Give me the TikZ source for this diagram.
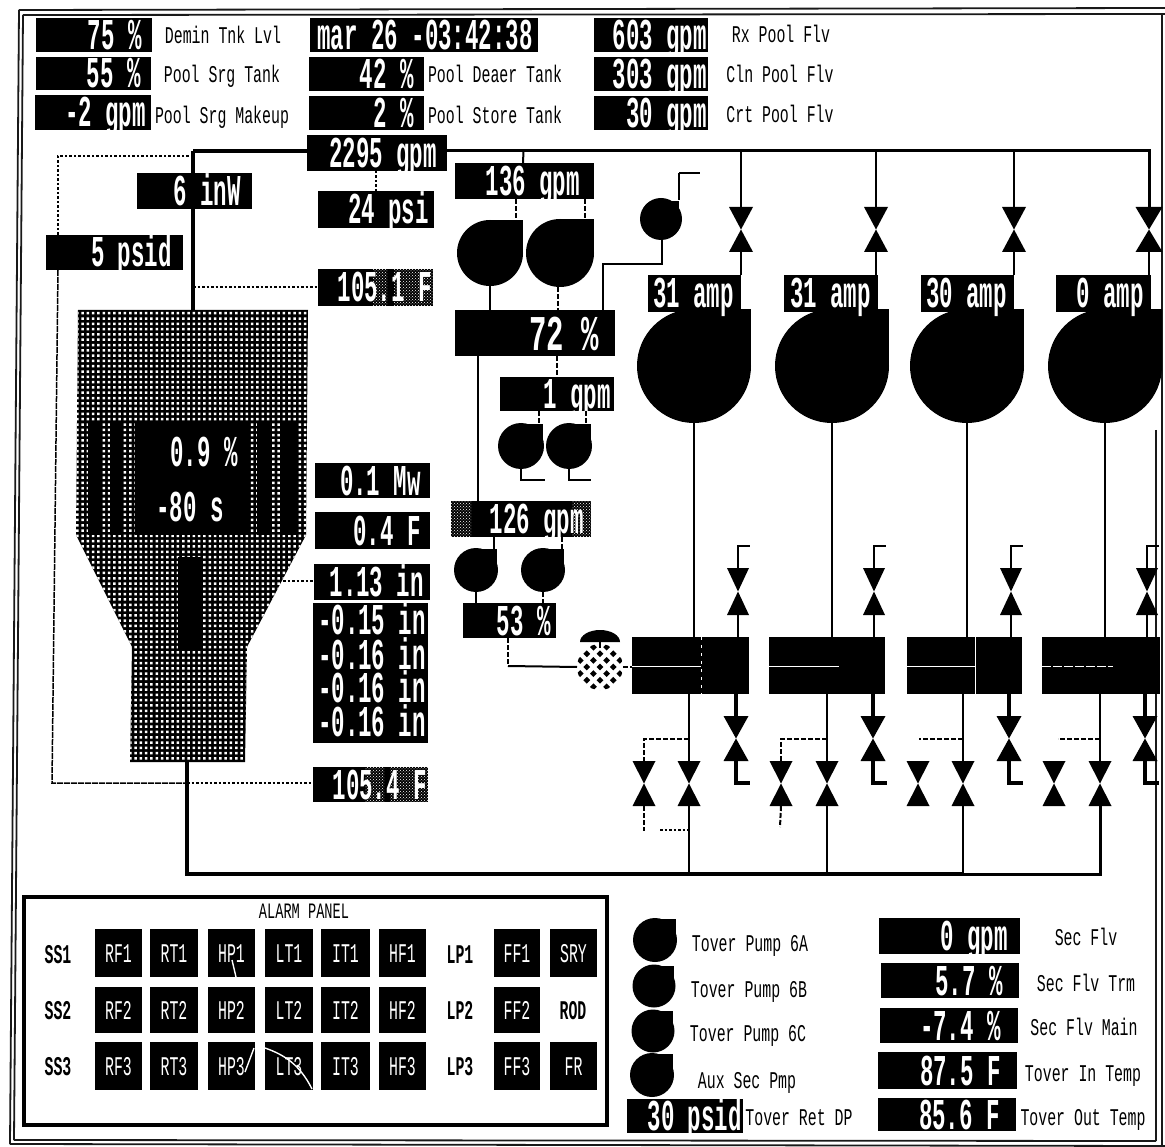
\documentclass[tikz,border=0pt]{standalone}
\usepackage{fontspec}
\usetikzlibrary{patterns}
\newfontfamily\rofont[FakeStretch=0.51]{Liberation Mono}
\newfontfamily\rofontb[FakeStretch=0.58]{Liberation Mono}
\newfontfamily\labfont[FakeStretch=0.62]{Liberation Mono}
\newfontfamily\btnfont[FakeStretch=0.55]{Liberation Mono}
\newcommand\bigro{\rofont\bfseries\fontsize{44}{44}\selectfont}
\newcommand\hugero{\rofontb\bfseries\fontsize{50}{50}\selectfont}
\newcommand\labf{\labfont\fontsize{24}{24}\selectfont}
\newcommand\btnf{\btnfont\fontsize{27}{27}\selectfont}
\newcommand\ttlf{\labfont\fontsize{22}{22}\selectfont}
\newcommand\ro[7]{%
  \pgfmathsetmacro\rw{#4-#2}\pgfmathsetmacro\rh{#5-#3}%
  \pgfmathsetmacro\rcx{(#2+#4)/2}\pgfmathsetmacro\rcy{(#3+#5)/2}\pgfmathsetmacro\rtx{#4-#6}%
  \node[robox,minimum width=\rw pt,minimum height=\rh pt] (#1) at (\rcx,\rcy) {};
  \node[rotxt] (#1-t) at (\rtx,\rcy) {#7};}
\newcommand\lab[4]{\node[labnode] (#1) at (#2,#3) {#4};}
\newcommand\pump[5][1]{%
  \pgfmathsetmacro\pd{2*#5}\pgfmathsetmacro\pa{#3+#1*#5}\pgfmathsetmacro\pb{#4-#1*#5}%
  \node[pumpnode,minimum size=\pd pt] (#2) at (#3,#4) {};
  \fill[black] (#3,#4) rectangle (\pa,\pb);}
\newcommand\valve[5]{% name x ytop ybot halfwidth
  \pgfmathsetmacro\vm{(#3+#4)/2}\pgfmathsetmacro\vl{#2-#5}\pgfmathsetmacro\vr{#2+#5}%
  \coordinate (#1-t) at (#2,#3);\coordinate (#1-b) at (#2,#4);
  \fill[black] (\vl,#3) -- (\vr,#3) -- (#2,\vm) -- cycle;
  \fill[black] (#2,\vm) -- (\vr,#4) -- (\vl,#4) -- cycle;}
\newcommand\btn[6]{%
  \pgfmathsetmacro\rw{#4-#2}\pgfmathsetmacro\rh{#5-#3}%
  \pgfmathsetmacro\rcx{(#2+#4)/2}\pgfmathsetmacro\rcy{(#3+#5)/2}%
  \node[btnnode,minimum width=\rw pt,minimum height=\rh pt] (#1) at (\rcx,\rcy) {#6};}
\begin{document}
\begin{tikzpicture}[x=1pt,y=-1pt,
  robox/.style={fill=black,inner sep=0pt,outer sep=0pt,draw=none},
  rotxt/.style={text=white,inner sep=0pt,font=\bigro,text height=29pt,text depth=0pt,anchor=east},
  labnode/.style={text=black,inner sep=0pt,font=\labf,text height=16pt,text depth=0pt},
  pumpnode/.style={circle,fill=black,inner sep=0pt,outer sep=0pt,draw=none},
  btnnode/.style={fill=black,text=white,inner sep=0pt,outer sep=0pt,font=\btnf,text height=18pt,text depth=0pt},
  panellab/.style={text=black,inner sep=0pt,font=\btnf\bfseries,text height=18pt,text depth=0pt},
  main/.style={line width=4pt,black},
  pipe/.style={line width=2pt,black},
  thin pipe/.style={line width=1.5pt,black},
  dots/.style={line width=1.5pt,black,dash pattern=on 2.5pt off 2pt},
  dash line/.style={line width=2pt,black,dash pattern=on 5pt off 2pt},
  halft/.style={pattern=crosshatch dots,pattern color=white,draw=none},
  frame line/.style={line width=1.8pt,black!90}
]
\useasboundingbox (0,0) rectangle (1165,1147);
\fill[white] (0,0) rectangle (1165,1147);
% frame
\draw[frame line] (19,10) -- (1165,8);
\draw[frame line] (23,15) -- (1165,14);
\draw[frame line] (19,10) -- (10,1144);
\draw[frame line] (23,15) -- (14,1140);
\draw[frame line] (1162,14) -- (1162,1147);
\draw[frame line,line width=1.2pt] (1156,430) -- (1156,1141);
\draw[frame line] (10,1144) -- (1165,1146);
\draw[frame line] (14,1140) -- (1156,1141);

% reactor vessel
\coordinate (rxT) at (193,310);
\coordinate (rxB) at (187,762);
\fill[black] (78,310) -- (308,310) -- (306,535) -- (247,647) -- (245,762) -- (130,762) -- (132,647) -- (76,535) -- cycle;
\begin{scope}
\clip (78,310) -- (308,310) -- (306,535) -- (247,647) -- (245,762) -- (130,762) -- (132,647) -- (76,535) -- cycle;
\fill[white] \foreach \i in {0,...,44}{\foreach \j in {0,...,85}{(76+5.3*\i,312+5.3*\j) rectangle +(2.5,2.5)}};
\end{scope}
\fill[black] (88,422) rectangle (102,535);
\fill[black] (110,422) rectangle (123,535);
\node[robox,minimum width=115pt,minimum height=112pt] (rxcore) at (192.5,479) {};
\fill[black] (257,422) rectangle (272,535);
\fill[black] (280,422) rectangle (297,535);
\fill[black] (178,557) rectangle (203,650);
\node[rotxt] (rxpct) at (238,452) {0.9 \%};
\node[rotxt] (rxper) at (224,507) {-80 s};

% top readouts
\ro{demin}{36}{18}{152}{52}{10}{75 \%}
\ro{srg}{36}{57}{151}{90}{10}{55 \%}
\ro{mkup}{35}{95}{151}{130}{5}{-2 gpm}
\ro{date}{310}{18}{538}{52}{5}{mar 26 -03:42:38}
\ro{deaer}{309}{57}{424}{91}{10}{42 \%}
\ro{store}{309}{96}{424}{130}{10}{2 \%}
\ro{rxflw}{594}{18}{708}{52}{1}{603 gpm}
\ro{clnflw}{594}{57}{708}{91}{1}{303 gpm}
\ro{crtflw}{594}{96}{708}{130}{1}{30 gpm}
\lab{ldemin}{223}{36}{Demin Tnk Lvl}
\lab{lsrg}{222}{75}{Pool Srg Tank}
\lab{lmkup}{222}{116}{Pool Srg Makeup}
\lab{ldeaer}{495}{75}{Pool Deaer Tank}
\lab{lstore}{495}{116}{Pool Store Tank}
\lab{lrx}{781}{35}{Rx Pool Flv}
\lab{lcln}{780}{75}{Cln Pool Flv}
\lab{lcrt}{780}{115}{Crt Pool Flv}

% left readouts
\ro{gpm2295}{307}{135}{447}{171}{10}{2295 gpm}
\ro{inw}{137}{173}{252}{209}{11}{6 inW}
\ro{psi24}{318}{191}{434}{228}{5}{24 psi}
\ro{psid5}{46}{235}{183}{270}{11}{5 psid}
\ro{f1051}{318}{269}{433}{306}{1}{}
\fill[halft] (373,269) rectangle (387,306);
\fill[halft] (394,269) rectangle (433,306);
\node[rotxt] (f1051-v) at (432,287.5) {105.1 F};
\ro{mw}{315}{463}{430}{498}{9}{0.1 Mw}
\ro{f04}{315}{512}{430}{549}{9}{0.4 F}
\ro{in113}{314}{564}{430}{600}{6}{1.13 in}
\node[robox,minimum width=115pt,minimum height=140pt] (inbox) at (370.5,673) {};
\node[rotxt] (in1) at (426,620) {-0.15 in};
\node[rotxt] (in2) at (426,655) {-0.16 in};
\node[rotxt] (in3) at (426,688) {-0.16 in};
\node[rotxt] (in4) at (426,722) {-0.16 in};
\ro{f1054}{313}{767}{428}{802}{1}{}
\fill[halft] (365,767) rectangle (384,802);
\fill[halft] (390,767) rectangle (428,802);
\node[rotxt] (f1054-v) at (427,784.5) {105.4 F};

% centre column
\ro{gpm136}{455}{163}{594}{199}{14}{136 gpm}
\pump{pa}{490}{253}{33}
\pump{pb}{560}{253}{34}
\pump[0.85]{pc}{661}{219}{21}
\node[robox,minimum width=160pt,minimum height=46pt] (pct72) at (535,333) {};
\node[rotxt,font=\hugero,text height=33pt] (pct72-t) at (599,334) {72 \%};
\ro{gpm1}{500}{377}{614}{411}{3}{1 gpm}
\pump[0.95]{pd}{521}{446}{23}
\pump[0.95]{pe}{569}{446}{23}
\ro{gpm126}{451}{501}{591}{537}{7}{}
\fill[halft] (451,501) rectangle (471,537);
\fill[halft] (572,501) rectangle (591,537);
\node[rotxt] (gpm126-v) at (584,519) {126 gpm};
\pump[0.95]{pf}{476}{570}{22}
\pump[0.95]{pg}{543}{570}{22}
\ro{pct53}{463}{603}{556}{638}{5}{53 \%}

% control valve
\node[circle,minimum size=46pt,inner sep=0pt,outer sep=0pt] (cv) at (600,667) {};
\begin{scope}
\clip (600,667) circle (23);
\fill[black] \foreach \i in {-4,...,4}{\foreach \j in {-4,...,4}{
  \ifodd\numexpr\i+\j+8\relax\else
    (600+6.6*\i,667-3.4+6.6*\j) -- ++(3.4,3.4) -- ++(-3.4,3.4) -- ++(-3.4,-3.4) -- cycle
  \fi}};
\end{scope}
\fill[black] (580,642) arc[start angle=180,end angle=360,x radius=20,y radius=12] -- cycle;
\fill[black] (598.8,642) rectangle (601.2,648);

% large pumps and amp boxes
\pump{pl1}{694}{366}{57}
\pump{pl2}{832}{366}{57}
\pump{pl3}{967}{366}{57}
\pump{pl4}{1105}{366}{57}
\ro{amp1}{648}{275}{741}{312}{7}{31 amp}
\ro{amp2}{784}{275}{878}{312}{7}{31 amp}
\ro{amp3}{921}{275}{1014}{312}{7}{30 amp}
\ro{amp4}{1056}{275}{1151}{312}{7}{0 amp}

% top valves
\valve{vt1}{741}{207}{252}{12}
\valve{vt2}{876}{207}{252}{12}
\valve{vt3}{1014}{207}{252}{12}
\valve{vt4}{1149}{207}{252}{13.5}

% heat exchangers
\node[robox,minimum width=117pt,minimum height=57pt] (hx1) at (690.5,665.5) {};
\node[robox,minimum width=116pt,minimum height=57pt] (hx2) at (827,665.5) {};
\node[robox,minimum width=115pt,minimum height=57pt] (hx3) at (964.5,665.5) {};
\node[robox,minimum width=118pt,minimum height=57pt] (hx4) at (1101,665.5) {};
\draw[white,line width=1pt] (632,666) -- (701,666);
\draw[white,line width=1pt,dash pattern=on 3pt off 5pt] (701,637) -- (701,694);
\draw[white,line width=1pt] (769,666) -- (839,666);
\draw[white,line width=1pt] (907,666) -- (975,666);
\draw[white,line width=1pt] (975,637) -- (975,694);
\draw[white,line width=1pt,dash pattern=on 9pt off 2pt] (1042,666) -- (1113,666);

% valves above the exchangers
\valve{vu1}{738}{568}{615}{11}
\valve{vu2}{874}{568}{615}{11}
\valve{vu3}{1011}{568}{615}{11}
\valve{vu4}{1147}{568}{615}{11}
% valves below (large)
\valve{vd1}{736}{716}{761}{12.5}
\valve{vd2}{873}{716}{761}{12.5}
\valve{vd3}{1009}{716}{761}{12.5}
\valve{vd4}{1145}{716}{761}{12.5}
% bottom valve pairs
\valve{va1}{644}{761}{806}{11.5}
\valve{vb1}{689}{761}{806}{11.5}
\valve{va2}{781}{761}{806}{11.5}
\valve{vb2}{827}{761}{806}{11.5}
\valve{va3}{918}{761}{806}{11.5}
\valve{vb3}{963}{761}{806}{11.5}
\valve{va4}{1054}{761}{806}{11.5}
\valve{vb4}{1100}{761}{806}{11.5}

% free ends and junctions
\coordinate (hdrL) at (193,151);
\coordinate (hdrR) at (1149,151);
\coordinate (hdrB) at (187,874);
\coordinate (hdrM) at (964,874);
\coordinate (hdrE) at (1100,874);
\coordinate (dotTL) at (58,156);
\coordinate (dotBL) at (52,783);
\coordinate (rxJ) at (187,783);
\coordinate (side113) at (283,581);
\coordinate (side1051) at (193,287);
\coordinate (pc-out) at (679,173);
\coordinate (pc-end) at (700,173);
\coordinate (pc-drop) at (662,264);
\coordinate (pct-up) at (603,264);

% main pipes
\draw[main] (hdrL) -- (gpm2295.west |- hdrL);
\draw[main,line width=3pt] (gpm2295.east |- hdrL) -- (hdrR) -- (vt4-t);
\draw[main] (hdrL) -- (inw.north -| hdrL);
\draw[main] (inw.south -| hdrL) -- (rxT);
\draw[main] (rxB) -- (hdrB) -- (hdrM);
\draw[pipe,line width=3pt] (hdrM) -- (hdrE) -- (vb4-b);
% dotted instrument lines
\draw[dots] (hdrL |- dotTL) -- (dotTL) -- (dotTL |- psid5.north);
\draw[thin pipe,dash pattern=on 6pt off 1pt] (dotTL |- psid5.south) -- (dotBL) -- (rxJ);
\draw[dots] (rxJ) -- (f1054.west |- rxJ);
\draw[dots] (side1051) -- (f1051.west |- side1051);
\draw[dots] (side113) -- (in113.west |- side113);
\draw[dots] (gpm2295.south -| psi24.north) -- (psi24.north);
% centre column lines
\draw[pipe] (hdrL -| gpm136.north) ++(-1,0) -- (gpm136.north -| 523,0);
\draw[dash line] (516,199) -- (516,222);
\draw[dash line] (585,199) -- (585,222);
\draw[pipe] (pa.south) -- (pa.south |- pct72.north);
\draw[dash line] (558,287) -- (558,310);
\draw[pipe] (pc-out) -- (679,200);
\draw[pipe] (pc-out) -- (pc-end);
\draw[pipe] (pc-drop |- pc.south) -- (pc-drop) -- (pct-up) -- (pct-up |- pct72.north);
\draw[dash line] (557,356) -- (557,377);
\draw[pipe] (478,356) -- (478,501);
\draw[dash line] (539,411) -- (539,424);
\draw[dash line] (586,411) -- (586,424);
\draw[pipe] (pd.south) -- ++(0,11) -- ++(24,0);
\draw[pipe] (pe.south) -- ++(0,11) -- ++(22,0);
\draw[pipe] (494,537) -- (494,549);
\draw[dash line] (562,537) -- (562,549);
\draw[pipe] (pf.south) -- (pf.south |- pct53.north);
\draw[dash line] (pg.south) -- (pg.south |- pct53.north);
\draw[dash line] (508,638) -- (508,666);
\draw[pipe] (508,666) -- (cv.west);
\draw[dash line] (cv.east) -- (hx1.west |- cv.east);
% header drops and pump columns
\foreach \k in {1,2,3,4}{
  \draw[pipe] (hdrL -| vt\k-t) -- (vt\k-t);
  \draw[pipe] (vt\k-b) -- (amp\k.north -| vt\k-b);
  \draw[pipe] (pl\k.south) -- (hx\k.north -| pl\k.south);
  \draw[pipe] (hx\k.north -| vu\k-b) -- (vu\k-b);
  \draw[pipe] (vu\k-t) -- (vu\k-t |- 0,546) -- ++(12,0);
  \draw[main] (hx\k.south -| vd\k-t) -- (vd\k-t);
  \draw[main] (vd\k-b) -- (vd\k-b |- 0,783) -- ++(14,0);
  \draw[pipe,line width=2.5pt] (hx\k.south -| vb\k-t) -- (vb\k-t);
  \draw[pipe,line width=2.5pt] (vb\k-b) -- (vb\k-b |- hdrB);
}
% exchanger bypass dashes
\draw[dash line] (vb1-t |- 0,739) -- (va1-t |- 0,739) -- (va1-t);
\draw[dash line] (vb2-t |- 0,739) -- (va2-t |- 0,739) -- (va2-t);
\draw[dash line] (vb3-t |- 0,739) -- (919,739);
\draw[dash line] (vb4-t |- 0,739) -- (1058,739);
\draw[dash line] (va1-b) -- (644,831);
\draw[dots] (660,830) -- (vb1-b |- 0,830);
\draw[dash line] (va2-b) -- (780,827);

% alarm panel
\draw[black,line width=3.5pt] (24,897) rectangle (607,1125);
\node[labnode,font=\ttlf,text height=12pt,inner sep=0pt] (ttl) at (304,912) {ALARM PANEL};
\foreach \c/\a/\b in {RF/95/142,RT/150/198,HP/208/255,LT/265/313,IT/321/370,HF/379/426,FF/494/540}
  \foreach \r/\t/\u in {1/929/977,2/987/1033,3/1042/1090}{
    \btn{\c\r}{\a}{\t}{\b}{\u}{\c\r}
  }
\btn{SRY}{550}{929}{597}{977}{SRY}
\btn{FR}{550}{1042}{597}{1090}{FR}
\node[panellab] (ROD) at (573,1010) {ROD};
\node[panellab] (SS1) at (58,954) {SS1};
\node[panellab] (SS2) at (58,1010) {SS2};
\node[panellab] (SS3) at (58,1066) {SS3};
\node[panellab] (LP1) at (460,954) {LP1};
\node[panellab] (LP2) at (460,1010) {LP2};
\node[panellab] (LP3) at (460,1066) {LP3};
\draw[white,line width=1.4pt] (245,1072) -- (254,1048);
\draw[white,line width=1.4pt] (265,1048) .. controls (285,1055) and (300,1065) .. (312,1089);
\draw[white,line width=1.4pt] (232,960) -- (236,977);

% lower right legend
\pump[0.95]{t6a}{655}{940}{22}
\pump[0.95]{t6b}{654}{986}{21.5}
\pump[0.95]{t6c}{653}{1031}{21.5}
\pump[0.95]{taux}{652}{1075}{22}
\lab{lt6a}{750}{943}{Tover Pump 6A}
\lab{lt6b}{749}{989}{Tover Pump 6B}
\lab{lt6c}{748}{1033}{Tover Pump 6C}
\lab{ltaux}{747}{1080}{Aux Sec Pmp}
\ro{ret}{627}{1099}{743}{1133}{1}{30 psid}
\lab{lret}{799}{1117}{Tover Ret DP}
\ro{sec0}{879}{918}{1020}{954}{12}{0 gpm}
\ro{sec1}{881}{963}{1019}{998}{16}{5.7 \%}
\ro{sec2}{880}{1008}{1018}{1043}{17}{-7.4 \%}
\ro{sec3}{878}{1052}{1017}{1089}{16}{87.5 F}
\ro{sec4}{878}{1098}{1016}{1131}{16}{85.6 F}
\lab{lsec0}{1086}{937}{Sec Flv}
\lab{lsec1}{1086}{983}{Sec Flv Trm}
\lab{lsec2}{1084}{1027}{Sec Flv Main}
\lab{lsec3}{1083}{1073}{Tover In Temp}
\lab{lsec4}{1083}{1117}{Tover Out Temp}
\end{tikzpicture}
\end{document}
